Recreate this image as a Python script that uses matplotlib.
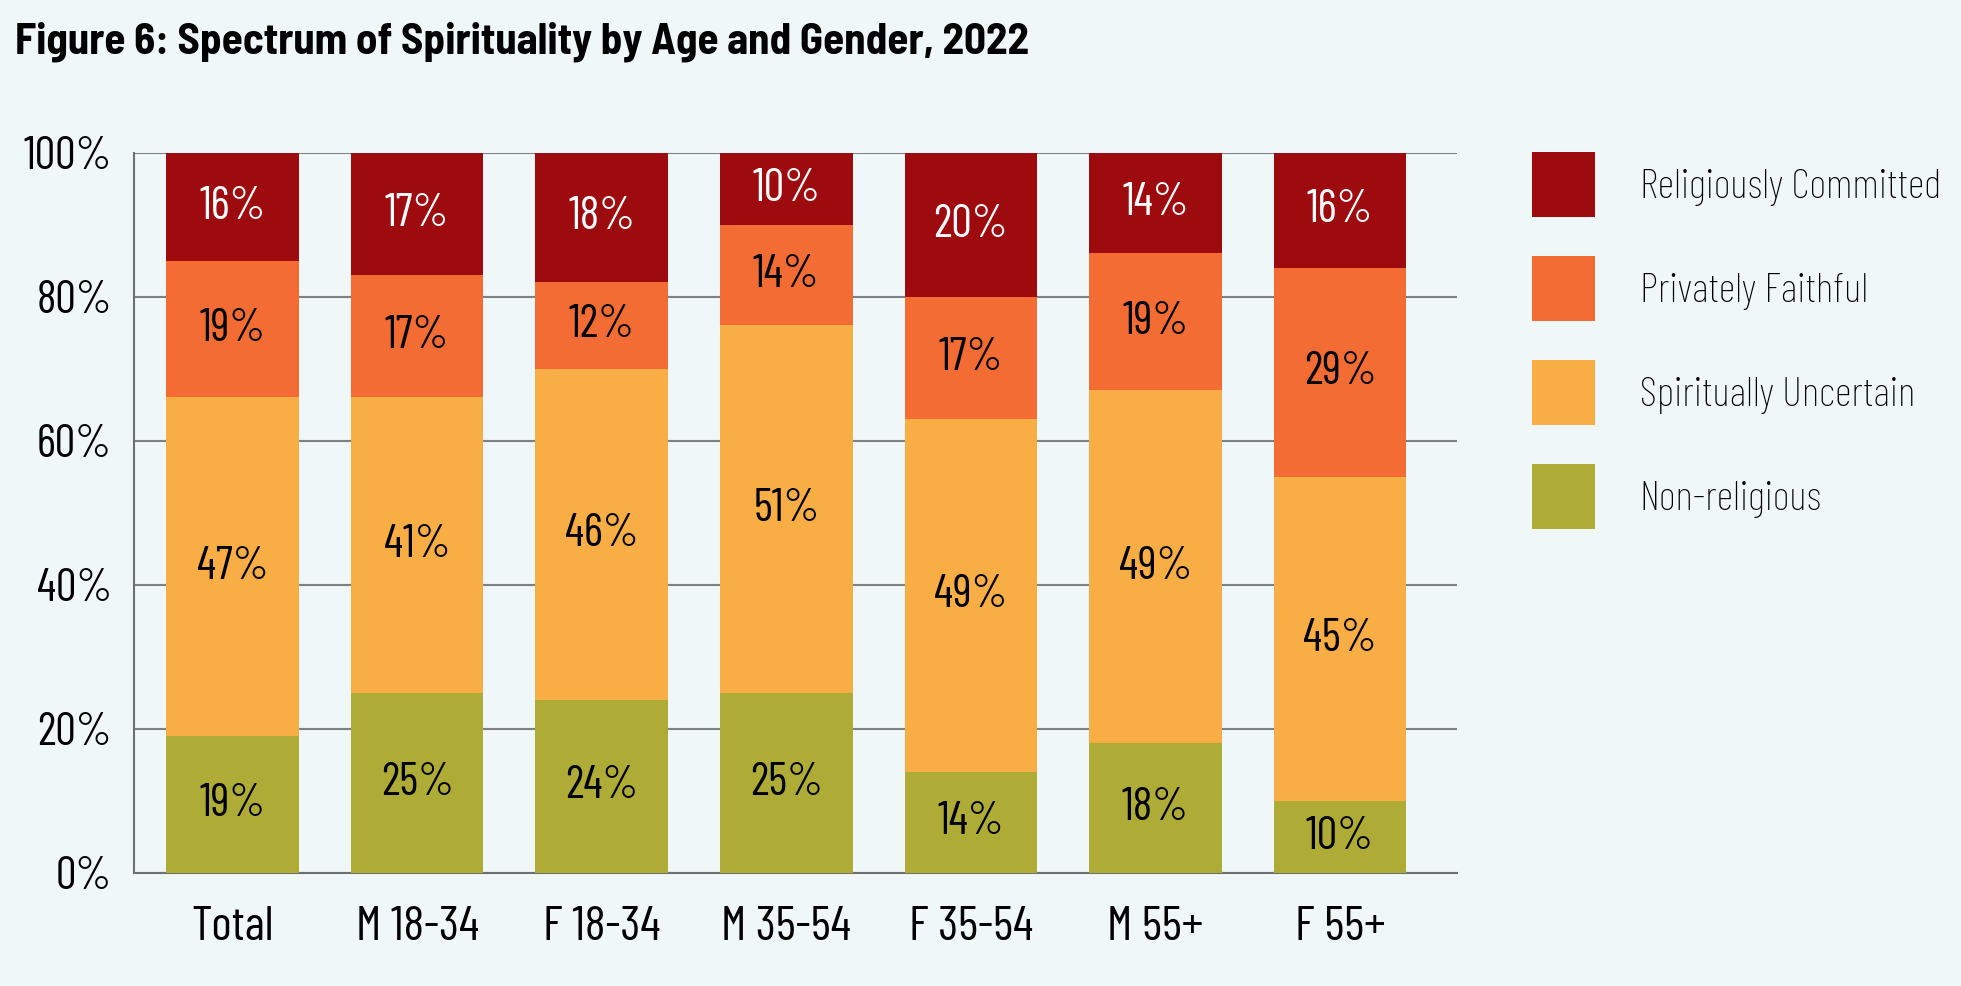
import matplotlib
matplotlib.use("Agg")
import matplotlib.pyplot as plt
from matplotlib.patches import Patch
import numpy as np

categories = ["Total", "M 18-34", "F 18-34", "M 35-54", "F 35-54", "M 55+", "F 55+"]
series_names = ["Non-religious", "Spiritually Uncertain", "Privately Faithful", "Religiously Committed"]
non_religious = [19, 25, 24, 25, 14, 18, 10]
spiritually_uncertain = [47, 41, 46, 51, 49, 49, 45]
privately_faithful = [19, 17, 12, 14, 17, 19, 29]
religiously_committed = [16, 17, 18, 10, 20, 14, 16]
yticks = [0, 20, 40, 60, 80, 100]
title = "Figure 6: Spectrum of Spirituality by Age and Gender, 2022"

colors = ["#AEAC36", "#F9AE45", "#F26C34", "#9E0B0F"]
text_colors = ["black", "black", "black", "white"]
bg = "#EFF7F9"

FAM = ["Barlow Condensed", "DejaVu Sans"]
TFAM = ["Barlow Semi Condensed", "Barlow Condensed", "DejaVu Sans"]
plt.rcParams['font.family'] = FAM
LW = "normal"
FS = 33
XFS = 35
LFS = 30

fig = plt.figure(figsize=(19.61, 9.86), dpi=100, facecolor=bg)
ax = fig.add_axes([0.0683, 0.1151, 0.743 - 0.0683, 0.8453 - 0.1151])
ax.set_facecolor(bg)

x = np.arange(len(categories))
data = [non_religious, spiritually_uncertain, privately_faithful, religiously_committed]
bottom = np.zeros(len(categories))
ymax = 100
for vals, col, tc, name in zip(data, colors, text_colors, series_names):
    vals = np.array(vals, dtype=float)
    ax.bar(x, vals, bottom=bottom, width=0.718, color=col, zorder=3, label=name)
    for xi, b, v in zip(x, bottom, vals):
        top = min(b + v, ymax)
        ax.text(xi, (b + top) / 2, f"{int(v)}%", ha="center", va="center",
                color=tc, fontsize=FS, fontweight=LW, zorder=4)
    bottom = bottom + vals

ax.set_ylim(0, 100)
ax.set_xlim(-0.534, len(categories) - 1 + 0.634)
ax.set_yticks(yticks)
ax.set_yticklabels([f"{t}%" for t in yticks], fontsize=FS, fontweight=LW)
ax.set_xticks(x)
ax.set_xticklabels(categories, fontsize=XFS, fontweight=LW)
ax.tick_params(axis="y", length=0, pad=16)
ax.tick_params(axis="x", length=0, pad=24)
ax.yaxis.grid(True, color="#808080", linewidth=1.5, zorder=0)
ax.set_axisbelow(True)
for s in ["top", "right"]:
    ax.spines[s].set_visible(False)
for s in ["left", "bottom"]:
    ax.spines[s].set_color("#707070")
    ax.spines[s].set_linewidth(1.5)

handles = [Patch(facecolor=c, label=n) for c, n in zip(colors[::-1], series_names[::-1])]
leg = fig.legend(handles=handles, loc="upper left",
                 bbox_to_anchor=(1532 / 1961, 1 - 152 / 986),
                 frameon=False, handlelength=1.5, handleheight=2.03,
                 labelspacing=0.93, handletextpad=1.08, borderpad=0, borderaxespad=0,
                 prop={"family": FAM, "size": LFS, "weight": "light"})

fig.text(15 / 1961, 1 - 42 / 986, title, fontsize=31, fontweight="bold",
         family=TFAM, ha="left", va="center")

fig.savefig("out.png", dpi=100, facecolor=bg)
